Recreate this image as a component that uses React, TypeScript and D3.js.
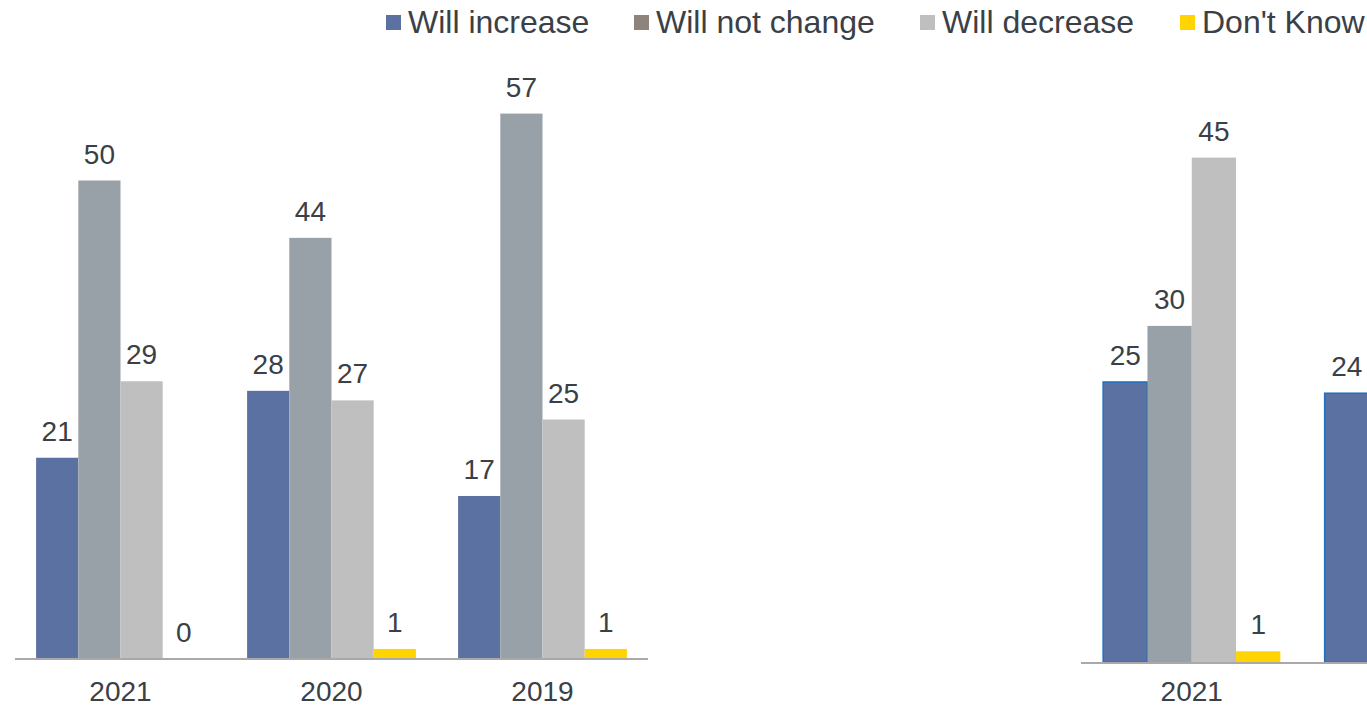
import React from "react";
import * as d3 from "d3";

const seriesNames = ["Will increase", "Will not change", "Will decrease", "Don't Know"];
const barColors = ["#5B71A1", "#99A1A8", "#BFBFBF", "#FFD400"];
const legendColors = ["#5B71A1", "#8E837D", "#BFBFBF", "#FFD400"];

const leftCategories = ["2021", "2020", "2019"];
const leftIncrease = [21, 28, 17];
const leftNoChange = [50, 44, 57];
const leftDecrease = [29, 27, 25];
const leftDontKnow = [0, 1, 1];

const rightCategories = ["2021", "2020", "2019"];
const rightIncrease: (number | null)[] = [25, 24, null];
const rightNoChange: (number | null)[] = [30, null, null];
const rightDecrease: (number | null)[] = [45, null, null];
const rightDontKnow: (number | null)[] = [1, null, null];

const WIDTH = 1367;
const HEIGHT = 708;
const textColor = "#3B4046";
const font = "'Liberation Sans', Arial, sans-serif";

type PanelProps = {
  categories: string[];
  series: (number | null)[][];
  x0: number;
  x1: number;
  baseY: number;
  pxPerUnit: number;
  labelY: number;
  labelSize: number;
  axisEnd: number;
  blueStroke?: boolean;
};

function Panel({ categories, series, x0, x1, baseY, pxPerUnit, labelY, labelSize, axisEnd, blueStroke }: PanelProps) {
  const xBand = d3.scaleBand<string>().domain(categories).range([x0, x1]).paddingInner(0.2).paddingOuter(0.1);
  const inner = d3.scaleBand<number>().domain(d3.range(series.length)).range([0, xBand.bandwidth()]);
  const y = d3.scaleLinear().domain([0, 1]).range([baseY, baseY - pxPerUnit]);
  return (
    <g>
      {categories.map((c, ci) => {
        const cx = (xBand(c) as number) + xBand.bandwidth() / 2;
        return (
          <g key={c + ci}>
            {series.map((s, si) => {
              const v = s[ci];
              if (v === null || v === undefined) return null;
              const bx = (xBand(c) as number) + (inner(si) as number);
              if (bx > WIDTH) return null;
              const by = y(v);
              const h = y(0) - by;
              return (
                <g key={si}>
                  {h > 0 && (
                    <rect
                      x={bx}
                      y={by}
                      width={inner.bandwidth()}
                      height={h}
                      fill={barColors[si]}
                      stroke={blueStroke && si === 0 ? "#1F6FC1" : "none"}
                      strokeWidth={blueStroke && si === 0 ? 1.5 : 0}
                    />
                  )}
                  <text
                    x={bx + inner.bandwidth() / 2}
                    y={by - 17}
                    textAnchor="middle"
                    fontSize={28}
                    fontFamily={font}
                    fill={textColor}
                  >
                    {v}
                  </text>
                </g>
              );
            })}
            {cx < WIDTH && (
              <text
                x={cx}
                y={labelY}
                textAnchor="middle"
                fontSize={labelSize}
                fontFamily={font}
                fill={textColor}
              >
                {c}
              </text>
            )}
          </g>
        );
      })}
      <line x1={x0} x2={axisEnd} y1={baseY + 0.5} y2={baseY + 0.5} stroke="#A9A9A9" strokeWidth={2} />
    </g>
  );
}

export default function App() {
  const legendX = [386, 634, 920, 1180];
  return (
    <svg
      width={WIDTH}
      height={HEIGHT}
      style={{ position: "absolute", left: 0, top: 0, background: "#fff" }}
    >
      <rect width={WIDTH} height={HEIGHT} fill="#fff" />
      {seriesNames.map((n, i) => (
        <g key={n}>
          <rect x={legendX[i]} y={15} width={15} height={15} fill={legendColors[i]} />
          <text x={legendX[i] + 22} y={33} fontSize={32} fontFamily={font} fill={textColor}>
            {n}
          </text>
        </g>
      ))}
      <Panel
        categories={leftCategories}
        series={[leftIncrease, leftNoChange, leftDecrease, leftDontKnow]}
        x0={15}
        x1={648}
        baseY={658.5}
        pxPerUnit={9.56}
        labelY={701}
        labelSize={28}
        axisEnd={648}
      />
      <Panel
        categories={rightCategories}
        series={[rightIncrease, rightNoChange, rightDecrease, rightDontKnow]}
        x0={1081}
        x1={1081 + 3 * 221.5}
        baseY={662.5}
        pxPerUnit={11.22}
        labelY={701}
        labelSize={28}
        axisEnd={WIDTH}
        blueStroke
      />
    </svg>
  );
}
